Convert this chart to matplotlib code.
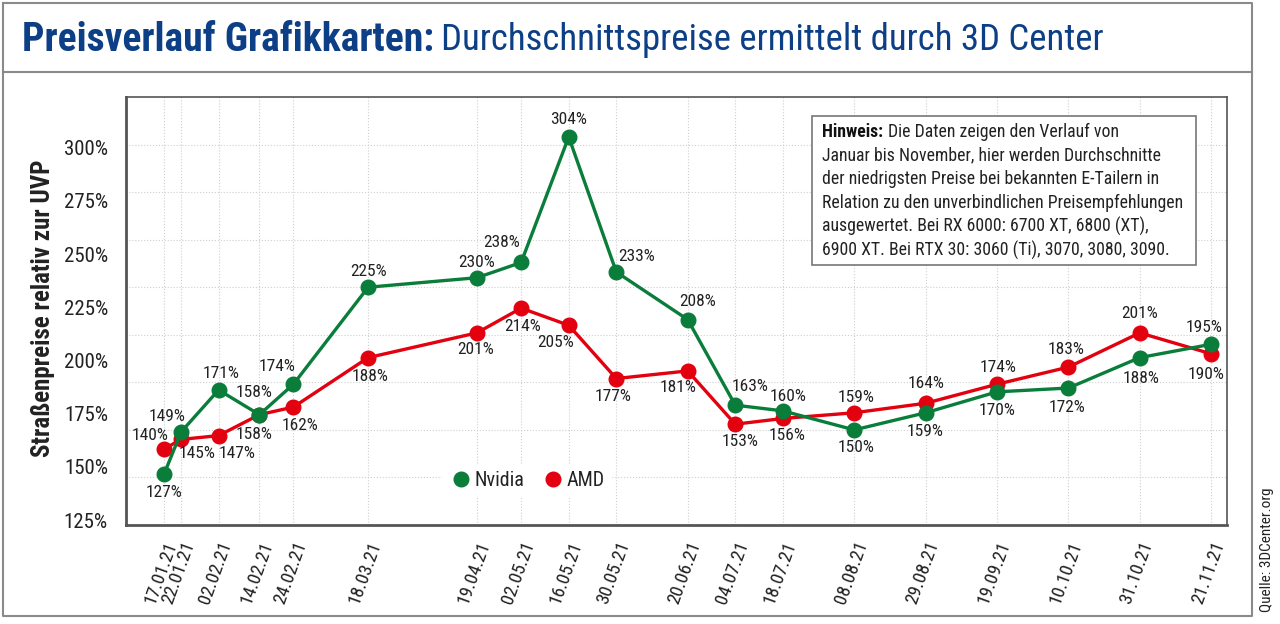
import matplotlib
matplotlib.use('Agg')
import matplotlib.pyplot as plt
import matplotlib.dates as mdates
from matplotlib import font_manager
from matplotlib.lines import Line2D
from matplotlib.patches import Rectangle
import numpy as np
import pandas as pd

# Daten (3DCenter, Preis relativ zur UVP in %)
dates = ['2021-01-17', '2021-01-22', '2021-02-02', '2021-02-14', '2021-02-24',
         '2021-03-18', '2021-04-19', '2021-05-02', '2021-05-16', '2021-05-30',
         '2021-06-20', '2021-07-04', '2021-07-18', '2021-08-08', '2021-08-29',
         '2021-09-19', '2021-10-10', '2021-10-31', '2021-11-21']
nvidia = [127, 149, 171, 158, 174, 225, 230, 238, 304, 233, 208, 163, 160, 150, 159, 170, 172, 188, 195]
amd = [140, 145, 147, 158, 162, 188, 201, 214, 205, 177, 181, 153, 156, 159, 164, 174, 183, 201, 190]
ytick_labels = ['125%', '150%', '175%', '200%', '225%', '250%', '275%', '300%']

# Label-Versatz in Pixeln (dx, dy)
nv_off = [(0, -19), (-14, 15), (2, 16), (-5, 22), (-16, 18), (0, 16), (0, 15), (-20, 20), (0, 17),
          (20, 16), (10, 18), (15, 19), (5, 14), (2, -18), (-1, -19), (0, -19), (-1, -19), (1, -21), (-7, 17)]
amd_off = [(-14, 13), (16, -14), (18, -18), (-5, -20), (7, -18), (2, -19), (-1, -17), (1, -18), (-13, -17),
           (-3, -18), (-10, -17), (5, -17), (4, -17), (2, 15), (0, 20), (1, 17), (-2, 18), (0, 19), (-5, -21)]


def pick(names):
    avail = {f.name for f in font_manager.fontManager.ttflist}
    for n in names:
        if n in avail:
            return n
    return 'DejaVu Sans'


fnt = pick(['Liberation Sans Narrow', 'Roboto Condensed', 'Open Sans Condensed', 'Liberation Sans'])
plt.rcParams['font.family'] = [fnt, 'DejaVu Sans']

green = '#0a7d3b'
red = '#e3000f'
blue = '#0c3f86'
txt = '#222222'

x = pd.to_datetime(dates)

fig = plt.figure(figsize=(12.8, 6.24), dpi=100)
ax = fig.add_axes([126 / 1280, 1 - 525 / 624, 1101 / 1280, 428 / 624])

ax.plot(x, amd, color=red, lw=2.4, marker='o', ms=10.5, zorder=3)
ax.plot(x, nvidia, color=green, lw=2.4, marker='o', ms=10.5, zorder=4)

for xi, v, (dx, dy) in zip(x, nvidia, nv_off):
    ax.annotate(f'{v}%', (xi, v), xytext=(dx, dy), textcoords='offset pixels',
                ha='center', va='center', fontsize=12.5, color=txt, zorder=5)
for xi, v, (dx, dy) in zip(x, amd, amd_off):
    ax.annotate(f'{v}%', (xi, v), xytext=(dx, dy), textcoords='offset pixels',
                ha='center', va='center', fontsize=12.5, color=txt, zorder=5)

ax.set_xlim(mdates.date2num(pd.Timestamp('2021-01-05 18:00')), mdates.date2num(pd.Timestamp('2021-11-25 16:00')))
ax.set_ylim(100, 325)

# Gitter
for xi in x:
    ax.axvline(xi, color='#cfcfcf', lw=0.8, ls=':', zorder=1)
for yv in np.arange(125, 301, 25):
    ax.axhline(yv, color='#cfcfcf', lw=0.8, ls=':', zorder=1)

ax.set_xticks(x)
ax.set_xticklabels([d.strftime('%d.%m.%y') for d in x], rotation=70, ha='right',
                   rotation_mode='anchor', fontsize=13.5, color=txt)
ax.set_yticks(np.linspace(102.6, 298.3, len(ytick_labels)))
ax.set_yticklabels(ytick_labels, fontsize=15, color=txt)
ax.tick_params(length=0)
ax.tick_params(axis='y', pad=13)
ax.tick_params(axis='x', pad=10)

for s in ['left', 'bottom']:
    ax.spines[s].set_linewidth(2)
    ax.spines[s].set_color('#555555')
for s in ['top', 'right']:
    ax.spines[s].set_linewidth(1.2)
    ax.spines[s].set_color('#555555')

fig.text(43 / 1280, 1 - 308 / 624, 'Straßenpreise relativ zur UVP', rotation=90,
         ha='center', va='center', fontsize=18, fontweight='bold', color=txt)

# Legende
handles = [Line2D([], [], ls='none', marker='o', ms=10.5, color=green),
           Line2D([], [], ls='none', marker='o', ms=10.5, color=red)]
leg = ax.legend(handles, ['Nvidia', 'AMD'], loc='center', bbox_to_anchor=(0.364, 0.105),
                ncol=2, frameon=True, fontsize=14.5, handletextpad=0.1, columnspacing=0.8,
                borderpad=0.3, handlelength=1.2)
leg.get_frame().set_edgecolor('none')
leg.get_frame().set_facecolor('white')
leg.get_frame().set_alpha(1)
for t in leg.get_texts():
    t.set_color(txt)

# Hinweis-Box
bx0, by0, bx1, by1 = 812, 116, 1196, 265
fig.patches.append(Rectangle((bx0 / 1280, 1 - by1 / 624), (bx1 - bx0) / 1280, (by1 - by0) / 624,
                             transform=fig.transFigure, facecolor='white', edgecolor='#777777',
                             lw=1.2, zorder=10))
lines = ['Die Daten zeigen den Verlauf von',
         'Januar bis November, hier werden Durchschnitte',
         'der niedrigsten Preise bei bekannten E-Tailern in',
         'Relation zu den unverbindlichen Preisempfehlungen',
         'ausgewertet. Bei RX 6000: 6700 XT, 6800 (XT),',
         '6900 XT. Bei RTX 30: 3060 (Ti), 3070, 3080, 3090.']
hw = fig.text(822 / 1280, 1 - 132 / 624, 'Hinweis:', ha='left', va='center', fontsize=12.8,
              fontweight='bold', color='#111111', zorder=11)
fig.canvas.draw()
bb = hw.get_window_extent()
fig.text((bb.x1 + 5) / 1280, 1 - 132 / 624, lines[0], ha='left', va='center', fontsize=12.8,
         color=txt, zorder=11)
for i, l in enumerate(lines[1:]):
    fig.text(822 / 1280, 1 - (132 + 23.6 * (i + 1)) / 624, l, ha='left', va='center',
             fontsize=12.8, color=txt, zorder=11)

# Titel
t1 = fig.text(22 / 1280, 1 - 40 / 624, 'Preisverlauf Grafikkarten:', ha='left', va='center',
              fontsize=28.5, fontweight='bold', color=blue)
fig.canvas.draw()
bb = t1.get_window_extent()
fig.text((bb.x1 + 7) / 1280, 1 - 40 / 624, 'Durchschnittspreise ermittelt durch 3D Center',
         ha='left', va='center', fontsize=26.5, color=blue)

# Rahmen
fc = '#8a8a8a'
fig.add_artist(Line2D([3 / 1280, 1252 / 1280, 1252 / 1280, 3 / 1280, 3 / 1280],
                      [1 - 3 / 624, 1 - 3 / 624, 1 - 616 / 624, 1 - 616 / 624, 1 - 3 / 624],
                      transform=fig.transFigure, color=fc, lw=1.5))
fig.add_artist(Line2D([3 / 1280, 1252 / 1280], [1 - 72 / 624, 1 - 72 / 624],
                      transform=fig.transFigure, color=fc, lw=1.5))

fig.text(1267 / 1280, 1 - 612 / 624, 'Quelle: 3DCenter.org', rotation=90, ha='center',
         va='bottom', fontsize=11, color=txt)

plt.savefig('out.png', dpi=100)
